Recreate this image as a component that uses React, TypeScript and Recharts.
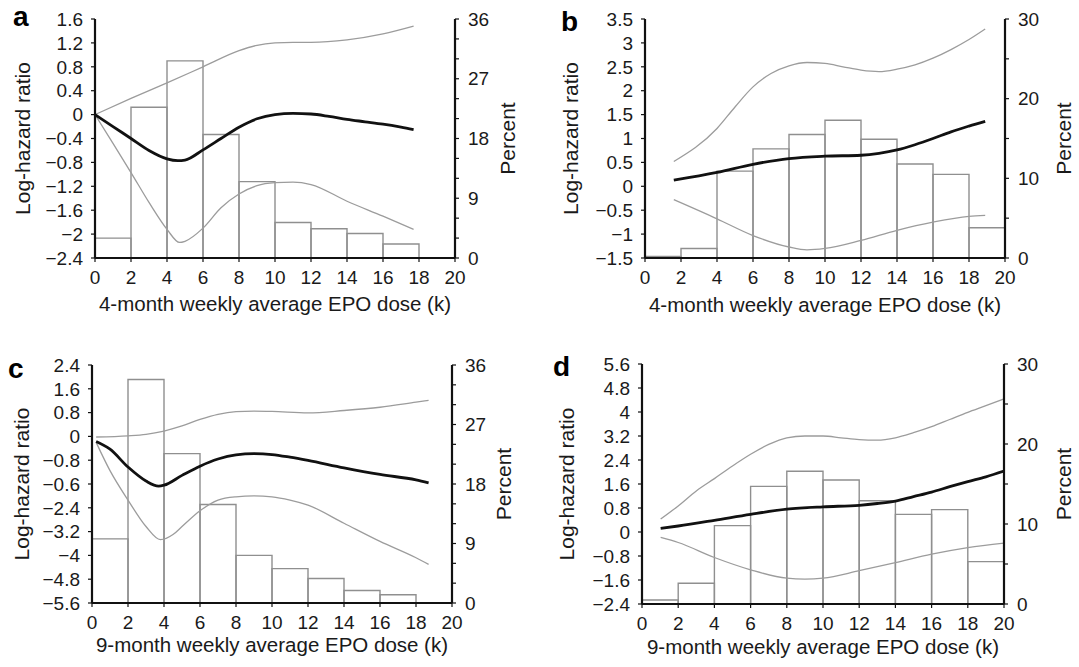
import React from 'react';
import { ComposedChart, Line, XAxis, YAxis, ReferenceArea, Label } from 'recharts';

// ---------- shared ----------
const xTicks = [0, 2, 4, 6, 8, 10, 12, 14, 16, 18, 20];
const binWidth = 2;

// ---------- panel a ----------
const aBinStarts = [0, 2, 4, 6, 8, 10, 12, 14, 16];
const aPercent = [3.0, 22.7, 29.7, 18.6, 11.5, 5.35, 4.4, 3.7, 2.1];
const aCenterX = [0, 1, 2, 3, 4, 4.6, 5, 6, 7, 8, 9, 10, 11, 12, 13, 14, 15, 16, 17, 17.7];
const aCenterY = [0, -0.2, -0.4, -0.6, -0.74, -0.77, -0.76, -0.59, -0.4, -0.21, -0.07, 0.0, 0.02, 0.01, -0.03, -0.08, -0.12, -0.16, -0.21, -0.25];
const aUpperX = [0, 2, 4, 6, 8, 9, 10, 11, 12, 14, 16, 17.7];
const aUpperY = [0, 0.27, 0.53, 0.8, 1.07, 1.16, 1.2, 1.21, 1.21, 1.25, 1.35, 1.48];
const aLowerX = [0, 1, 2, 3, 4, 4.7, 5, 6, 7, 8, 9, 10, 11, 12, 14, 16, 17.7];
const aLowerY = [0, -0.48, -0.97, -1.47, -1.92, -2.14, -2.12, -1.9, -1.56, -1.33, -1.19, -1.14, -1.13, -1.17, -1.45, -1.7, -1.92];
const aLeftTicks = [1.6, 1.2, 0.8, 0.4, 0, -0.4, -0.8, -1.2, -1.6, -2, -2.4];
const aLeftLabels = ['1.6', '1.2', '0.8', '0.4', '0', '\u22120.4', '\u22120.8', '\u22121.2', '\u22121.6', '\u22122', '\u22122.4'];
const aRightTicks = [0, 3, 6, 9, 12, 15, 18, 21, 24, 27, 30, 33, 36];
const aRightLabels = ['0', '', '', '9', '', '', '18', '', '', '27', '', '', '36'];

// ---------- panel b ----------
const bBinStarts = [0, 2, 4, 6, 8, 10, 12, 14, 16, 18];
const bPercent = [0.2, 1.2, 10.9, 13.7, 15.5, 17.3, 14.9, 11.8, 10.5, 3.8];
const bCenterX = [1.6, 4, 6, 8, 10, 12, 13, 14, 15, 16, 17, 18, 18.9];
const bCenterY = [0.13, 0.29, 0.46, 0.58, 0.63, 0.65, 0.69, 0.76, 0.87, 1.0, 1.14, 1.26, 1.36];
const bUpperX = [1.6, 4, 5, 6, 7, 8, 9, 10, 11, 12, 13, 14, 15, 16, 17, 18, 18.9];
const bUpperY = [0.52, 1.21, 1.66, 2.08, 2.36, 2.52, 2.59, 2.57, 2.5, 2.43, 2.4, 2.45, 2.54, 2.68, 2.86, 3.07, 3.29];
const bLowerX = [1.6, 4, 6, 8, 9, 10, 12, 14, 16, 18, 18.9];
const bLowerY = [-0.28, -0.68, -1.03, -1.27, -1.33, -1.3, -1.13, -0.92, -0.75, -0.63, -0.61];
const bLeftTicks = [3.5, 3, 2.5, 2, 1.5, 1, 0.5, 0, -0.5, -1, -1.5];
const bLeftLabels = ['3.5', '3', '2.5', '2', '1.5', '1', '0.5', '0', '\u22120.5', '\u22121', '\u22121.5'];
const bRightTicks = [0, 5, 10, 15, 20, 25, 30];
const bRightLabels = ['0', '', '10', '', '20', '', '30'];

// ---------- panel c ----------
const cBinStarts = [0, 2, 4, 6, 8, 10, 12, 14, 16];
const cPercent = [9.7, 33.8, 22.6, 14.9, 7.2, 5.2, 3.7, 1.9, 1.25];
const cCenterX = [0.23, 1, 2, 3, 3.7, 4, 5, 6, 7, 8, 9, 10, 11, 12, 14, 16, 18, 18.7];
const cCenterY = [-0.17, -0.43, -1.03, -1.5, -1.67, -1.64, -1.31, -1.0, -0.76, -0.62, -0.58, -0.61, -0.7, -0.81, -1.06, -1.28, -1.46, -1.56];
const cUpperX = [0.23, 2, 3, 4, 5, 6, 7, 8, 9, 10, 12, 14, 16, 18, 18.7];
const cUpperY = [-0.02, 0.02, 0.07, 0.18, 0.35, 0.57, 0.74, 0.83, 0.85, 0.84, 0.79, 0.87, 0.98, 1.15, 1.21];
const cLowerX = [0.23, 1, 2, 3, 3.8, 4.5, 5, 6, 7, 8, 9, 10, 11, 12, 14, 16, 18, 18.7];
const cLowerY = [-0.2, -1.15, -2.14, -3.03, -3.47, -3.3, -3.03, -2.5, -2.14, -2.03, -2.0, -2.03, -2.14, -2.31, -2.92, -3.53, -4.08, -4.3];
const cLeftTicks = [2.4, 1.6, 0.8, 0, -0.8, -1.6, -2.4, -3.2, -4, -4.8, -5.6];
const cLeftLabels = ['2.4', '1.6', '0.8', '0', '\u22120.8', '\u22120.6', '\u22122.4', '\u22123.2', '\u22124', '\u22124.8', '\u22125.6'];
const cRightTicks = [0, 3, 6, 9, 12, 15, 18, 21, 24, 27, 30, 33, 36];
const cRightLabels = ['0', '', '', '9', '', '', '18', '', '', '27', '', '', '36'];

// ---------- panel d ----------
const dBinStarts = [0, 2, 4, 6, 8, 10, 12, 14, 16, 18];
const dPercent = [0.5, 2.6, 9.8, 14.7, 16.6, 15.5, 12.9, 11.2, 11.8, 5.3];
const dCenterX = [1.03, 2, 4, 6, 8, 10, 12, 13, 14, 15, 16, 17, 18, 19, 20];
const dCenterY = [0.12, 0.2, 0.39, 0.59, 0.76, 0.84, 0.89, 0.95, 1.03, 1.18, 1.33, 1.51, 1.68, 1.84, 2.03];
const dUpperX = [1.03, 2, 3, 4, 5, 6, 7, 8, 9, 10, 11, 12, 13, 14, 15, 16, 17, 18, 19, 20];
const dUpperY = [0.43, 0.87, 1.37, 1.78, 2.2, 2.59, 2.92, 3.14, 3.2, 3.2, 3.14, 3.08, 3.06, 3.14, 3.31, 3.51, 3.75, 3.99, 4.21, 4.44];
const dLowerX = [1.03, 2, 4, 6, 8, 9, 10, 12, 14, 16, 18, 20];
const dLowerY = [-0.18, -0.35, -0.85, -1.26, -1.54, -1.57, -1.54, -1.29, -1.02, -0.74, -0.52, -0.37];
const dLeftTicks = [5.6, 4.8, 4, 3.2, 2.4, 1.6, 0.8, 0, -0.8, -1.6, -2.4];
const dLeftLabels = ['5.6', '4.8', '4', '3.2', '2.4', '1.6', '0.8', '0', '\u22120.8', '\u22121.6', '\u22122.4'];
const dRightTicks = [0, 5, 10, 15, 20, 25, 30];
const dRightLabels = ['0', '', '10', '', '20', '', '30'];

const xTitle4 = '4-month weekly average EPO dose (k)';
const xTitle9 = '9-month weekly average EPO dose (k)';

const FONT = '"Liberation Sans", Arial, Helvetica, sans-serif';
const TEXT = '#1a1a1a';

const zip = (xs: number[], ys: number[]) => xs.map((x, i) => ({ x, y: ys[i] }));
const labelFor = (ticks: number[], labels: string[]) => (v: number) => {
  const i = ticks.findIndex((t) => Math.abs(t - v) < 1e-9);
  return i >= 0 ? labels[i] : '';
};

type PanelProps = {
  box: { left: number; top: number; w: number; h: number };
  plot: { left: number; top: number; w: number; h: number };
  letter: string;
  letterPos: { x: number; y: number };
  leftTicks: number[];
  leftLabels: string[];
  rightTicks: number[];
  rightLabels: string[];
  binStarts: number[];
  percent: number[];
  center: { x: number; y: number }[];
  upper: { x: number; y: number }[];
  lower: { x: number; y: number }[];
  xTitle: string;
  xTitleDy: number;
  leftTitleX: number;
  rightTitleX: number;
};

function Panel(p: PanelProps) {
  const leftW = p.plot.left;
  const rightW = p.box.w - p.plot.left - p.plot.w;
  const xH = p.box.h - p.plot.top - p.plot.h;
  const yDomain = [p.leftTicks[p.leftTicks.length - 1], p.leftTicks[0]];
  const rDomain = [p.rightTicks[0], p.rightTicks[p.rightTicks.length - 1]];
  const tickStyle = { fill: TEXT, fontSize: 19, fontFamily: FONT };
  return (
    <div style={{ position: 'absolute', left: p.box.left, top: p.box.top, width: p.box.w, height: p.box.h }}>
      <ComposedChart width={p.box.w} height={p.box.h} margin={{ top: p.plot.top, right: 0, bottom: 0, left: 0 }}>
        <XAxis
          xAxisId="bottom"
          dataKey="x"
          type="number"
          domain={[0, 20]}
          ticks={xTicks}
          interval={0}
          allowDataOverflow
          height={xH}
          tick={tickStyle}
          tickSize={4}
          tickMargin={9}
          axisLine={{ stroke: '#111', strokeWidth: 2 }}
          tickLine={{ stroke: '#111', strokeWidth: 1.2 }}
        >
          <Label
            content={(lp: any) => {
              const vb = lp.viewBox || { x: p.plot.left, y: p.plot.top + p.plot.h, width: p.plot.w };
              return (
                <text x={vb.x + vb.width / 2} y={vb.y + p.xTitleDy} textAnchor="middle" fontSize={20.5} fontFamily={FONT} fill={TEXT}>
                  {p.xTitle}
                </text>
              );
            }}
          />
        </XAxis>
        <XAxis
          xAxisId="top"
          orientation="top"
          dataKey="x"
          type="number"
          domain={[0, 20]}
          height={0}
          tick={false}
          tickLine={false}
          axisLine={{ stroke: '#333', strokeWidth: 1.8 }}
        />
        <YAxis
          yAxisId="left"
          type="number"
          domain={yDomain}
          ticks={p.leftTicks}
          interval={0}
          allowDataOverflow
          width={leftW}
          tick={tickStyle}
          tickSize={4}
          tickMargin={8}
          tickFormatter={labelFor(p.leftTicks, p.leftLabels)}
          axisLine={{ stroke: '#111', strokeWidth: 2.2 }}
          tickLine={{ stroke: '#111', strokeWidth: 1.2 }}
        >
          <Label
            content={() => {
              const cy = p.plot.top + p.plot.h / 2;
              const cx = p.leftTitleX;
              return (
                <text x={cx} y={cy} transform={`rotate(-90 ${cx} ${cy})`} textAnchor="middle" dominantBaseline="central" fontSize={21} fontFamily={FONT} fill={TEXT}>
                  Log-hazard ratio
                </text>
              );
            }}
          />
        </YAxis>
        <YAxis
          yAxisId="right"
          orientation="right"
          type="number"
          domain={rDomain}
          ticks={p.rightTicks}
          interval={0}
          allowDataOverflow
          width={rightW}
          tick={tickStyle}
          tickSize={4}
          tickMargin={9}
          tickFormatter={labelFor(p.rightTicks, p.rightLabels)}
          axisLine={{ stroke: '#111', strokeWidth: 2.2 }}
          tickLine={{ stroke: '#111', strokeWidth: 1.2 }}
        >
          <Label
            content={() => {
              const cy = p.plot.top + p.plot.h / 2;
              const cx = p.rightTitleX;
              return (
                <text x={cx} y={cy} transform={`rotate(-90 ${cx} ${cy})`} textAnchor="middle" dominantBaseline="central" fontSize={21} fontFamily={FONT} fill={TEXT}>
                  Percent
                </text>
              );
            }}
          />
        </YAxis>
        {p.binStarts.map((s, i) => (
          <ReferenceArea
            key={'bin' + i}
            xAxisId="bottom"
            yAxisId="right"
            x1={s}
            x2={s + binWidth}
            y1={0}
            y2={p.percent[i]}
            fill="none"
            fillOpacity={0}
            stroke="#8f8f8f"
            strokeWidth={1.4}
            ifOverflow="extendDomain"
          />
        ))}
        <Line xAxisId="bottom" yAxisId="left" data={p.upper} dataKey="y" type="monotone" stroke="#9c9c9c" strokeWidth={1.3} dot={false} isAnimationActive={false} />
        <Line xAxisId="bottom" yAxisId="left" data={p.lower} dataKey="y" type="monotone" stroke="#9c9c9c" strokeWidth={1.3} dot={false} isAnimationActive={false} />
        <Line xAxisId="bottom" yAxisId="left" data={p.center} dataKey="y" type="monotone" stroke="#111" strokeWidth={2.8} dot={false} isAnimationActive={false} />
      </ComposedChart>
      <div
        style={{
          position: 'absolute',
          left: p.letterPos.x,
          top: p.letterPos.y,
          fontFamily: FONT,
          fontWeight: 700,
          fontSize: 28,
          lineHeight: '28px',
          color: '#000',
        }}
      >
        {p.letter}
      </div>
    </div>
  );
}

export default function App() {
  return (
    <div style={{ position: 'absolute', left: 0, top: 0, width: 1079, height: 667, background: '#fff', overflow: 'hidden' }}>
      <Panel
        box={{ left: 0, top: 0, w: 540, h: 333 }}
        plot={{ left: 95, top: 19, w: 360, h: 239 }}
        letter="a"
        letterPos={{ x: 13, y: 3 }}
        leftTicks={aLeftTicks}
        leftLabels={aLeftLabels}
        rightTicks={aRightTicks}
        rightLabels={aRightLabels}
        binStarts={aBinStarts}
        percent={aPercent}
        center={zip(aCenterX, aCenterY)}
        upper={zip(aUpperX, aUpperY)}
        lower={zip(aLowerX, aLowerY)}
        xTitle={xTitle4}
        xTitleDy={53}
        leftTitleX={22}
        rightTitleX={507}
      />
      <Panel
        box={{ left: 540, top: 0, w: 539, h: 333 }}
        plot={{ left: 105, top: 19, w: 360, h: 239 }}
        letter="b"
        letterPos={{ x: 21, y: 8 }}
        leftTicks={bLeftTicks}
        leftLabels={bLeftLabels}
        rightTicks={bRightTicks}
        rightLabels={bRightLabels}
        binStarts={bBinStarts}
        percent={bPercent}
        center={zip(bCenterX, bCenterY)}
        upper={zip(bUpperX, bUpperY)}
        lower={zip(bLowerX, bLowerY)}
        xTitle={xTitle4}
        xTitleDy={54}
        leftTitleX={30}
        rightTitleX={523}
      />
      <Panel
        box={{ left: 0, top: 333, w: 540, h: 334 }}
        plot={{ left: 92, top: 32, w: 360, h: 238 }}
        letter="c"
        letterPos={{ x: 8, y: 22 }}
        leftTicks={cLeftTicks}
        leftLabels={cLeftLabels}
        rightTicks={cRightTicks}
        rightLabels={cRightLabels}
        binStarts={cBinStarts}
        percent={cPercent}
        center={zip(cCenterX, cCenterY)}
        upper={zip(cUpperX, cUpperY)}
        lower={zip(cLowerX, cLowerY)}
        xTitle={xTitle9}
        xTitleDy={49}
        leftTitleX={21}
        rightTitleX={503}
      />
      <Panel
        box={{ left: 540, top: 333, w: 539, h: 334 }}
        plot={{ left: 102, top: 31, w: 362, h: 240 }}
        letter="d"
        letterPos={{ x: 13, y: 20 }}
        leftTicks={dLeftTicks}
        leftLabels={dLeftLabels}
        rightTicks={dRightTicks}
        rightLabels={dRightLabels}
        binStarts={dBinStarts}
        percent={dPercent}
        center={zip(dCenterX, dCenterY)}
        upper={zip(dUpperX, dUpperY)}
        lower={zip(dLowerX, dLowerY)}
        xTitle={xTitle9}
        xTitleDy={50}
        leftTitleX={26}
        rightTitleX={523}
      />
    </div>
  );
}
